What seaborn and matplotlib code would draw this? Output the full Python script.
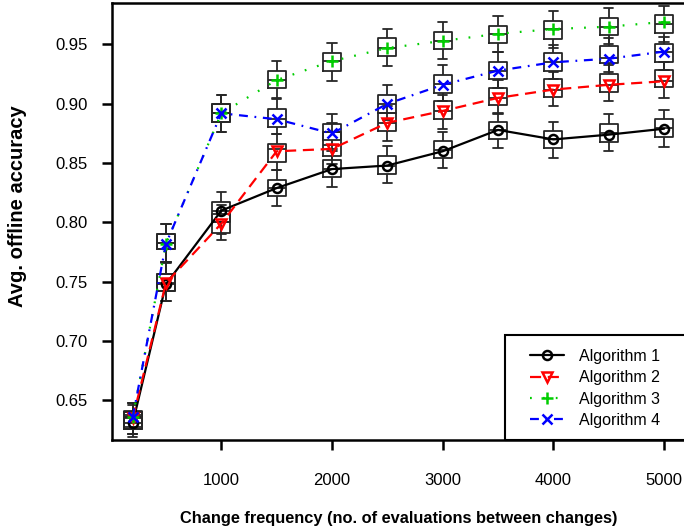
import numpy as np
import pandas as pd
import matplotlib
matplotlib.use("Agg")
import matplotlib.pyplot as plt
from matplotlib.patches import Rectangle
import seaborn as sns

# change frequency (evaluations between changes)
freq = [200, 500, 1000, 1500, 2000, 2500, 3000, 3500, 4000, 4500, 5000]
algos = ["Algorithm 1", "Algorithm 2", "Algorithm 3", "Algorithm 4"]

# average offline accuracy (line / marker values)
alg1_mean = [0.631, 0.748, 0.810, 0.829, 0.845, 0.848, 0.860, 0.878, 0.870, 0.874, 0.879]
alg2_mean = [0.635, 0.749, 0.799, 0.860, 0.862, 0.884, 0.894, 0.905, 0.912, 0.916, 0.919]
alg3_mean = [0.636, 0.782, 0.892, 0.920, 0.936, 0.947, 0.953, 0.959, 0.963, 0.965, 0.969]
alg4_mean = [0.636, 0.782, 0.892, 0.887, 0.875, 0.900, 0.916, 0.928, 0.935, 0.938, 0.944]

# box statistics: lower whisker, q1, median, q3, upper whisker
alg1_lo  = [0.619, 0.734, 0.790, 0.814, 0.830, 0.833, 0.846, 0.863, 0.854, 0.860, 0.864]
alg1_q1  = [0.626, 0.742, 0.800, 0.822, 0.838, 0.841, 0.854, 0.870, 0.863, 0.868, 0.872]
alg1_med = [0.631, 0.748, 0.810, 0.829, 0.845, 0.848, 0.861, 0.878, 0.870, 0.875, 0.880]
alg1_q3  = [0.638, 0.757, 0.8175, 0.836, 0.853, 0.856, 0.869, 0.885, 0.877, 0.883, 0.887]
alg1_hi  = [0.646, 0.766, 0.8255, 0.844, 0.860, 0.8645, 0.8765, 0.892, 0.885, 0.891, 0.895]

alg2_lo  = [0.622, 0.734, 0.785, 0.844, 0.849, 0.869, 0.8785, 0.891, 0.898, 0.902, 0.905]
alg2_q1  = [0.628, 0.742, 0.791, 0.851, 0.856, 0.877, 0.887, 0.899, 0.906, 0.910, 0.914]
alg2_med = [0.635, 0.749, 0.800, 0.862, 0.865, 0.884, 0.894, 0.905, 0.912, 0.916, 0.919]
alg2_q3  = [0.641, 0.757, 0.8075, 0.866, 0.876, 0.892, 0.902, 0.913, 0.921, 0.925, 0.9285]
alg2_hi  = [0.648, 0.767, 0.815, 0.8746, 0.884, 0.898, 0.9074, 0.920, 0.927, 0.933, 0.935]

alg3_lo  = [0.622, 0.767, 0.876, 0.904, 0.9195, 0.932, 0.9375, 0.9434, 0.947, 0.950, 0.952]
alg3_q1  = [0.626, 0.7774, 0.8844, 0.913, 0.928, 0.940, 0.946, 0.951, 0.955, 0.958, 0.9594]
alg3_med = [0.636, 0.7825, 0.892, 0.920, 0.936, 0.947, 0.953, 0.9586, 0.963, 0.965, 0.967]
alg3_q3  = [0.6406, 0.790, 0.8996, 0.9277, 0.9426, 0.9552, 0.9608, 0.9656, 0.970, 0.9726, 0.975]
alg3_hi  = [0.6477, 0.7985, 0.9075, 0.9361, 0.951, 0.963, 0.969, 0.9743, 0.9785, 0.981, 0.9827]

alg4_lo  = [0.622, 0.767, 0.876, 0.8746, 0.862, 0.886, 0.902, 0.913, 0.921, 0.927, 0.9285]
alg4_q1  = [0.626, 0.7774, 0.8844, 0.8807, 0.8695, 0.892, 0.9094, 0.9207, 0.9277, 0.9342, 0.935]
alg4_med = [0.636, 0.7825, 0.892, 0.887, 0.876, 0.8996, 0.9165, 0.9277, 0.935, 0.9384, 0.944]
alg4_q3  = [0.6406, 0.790, 0.8996, 0.8954, 0.883, 0.9074, 0.9243, 0.9355, 0.9426, 0.949, 0.950]
alg4_hi  = [0.6477, 0.7985, 0.9075, 0.9047, 0.8914, 0.9159, 0.9327, 0.9437, 0.9496, 0.9555, 0.9563]

means = [alg1_mean, alg2_mean, alg3_mean, alg4_mean]
boxes = [
    (alg1_lo, alg1_q1, alg1_med, alg1_q3, alg1_hi),
    (alg2_lo, alg2_q1, alg2_med, alg2_q3, alg2_hi),
    (alg3_lo, alg3_q1, alg3_med, alg3_q3, alg3_hi),
    (alg4_lo, alg4_q1, alg4_med, alg4_q3, alg4_hi),
]

colors = ["black", "#FF0000", "#00CD00", "#0000FF"]
styles = ["-", (0, (5, 3)), (0, (0.8, 5)), (0, (4, 3, 0.8, 3))]
markers = ["o", "v", "+", "x"]
msizes = [6.5, 7.5, 9, 7]

# five-number summaries as rows so the box edges land on them exactly
rows = []
for name, stats in zip(algos, boxes):
    for i, f in enumerate(freq):
        for s in stats:
            rows.append({"algo": name, "freq": f, "acc": s[i]})
box_df = pd.DataFrame(rows)

sns.set_style("ticks")
plt.rcParams["font.family"] = ["Liberation Sans", "DejaVu Sans"]

fig = plt.figure(figsize=(6.84, 5.31), dpi=100)
ax = fig.add_axes([111.5 / 684, (531 - 440) / 531, (685.3 - 111.5) / 684, (440 - 3.3) / 531])

for name in algos:
    sns.boxplot(data=box_df[box_df["algo"] == name], x="freq", y="acc",
                native_scale=True, whis=(0, 100), fill=False, color="#262626",
                linewidth=1.3, width=0.55, ax=ax, zorder=2)

for name, m, c, ls, mk, ms in zip(algos, means, colors, styles, markers, msizes):
    sns.lineplot(x=freq, y=m, color=c, linestyle=ls, linewidth=1.6, marker=mk,
                 markersize=ms, markerfacecolor="none", markeredgecolor=c,
                 mew=1.8, label=name, ax=ax, zorder=3)

ax.set_xlim(8, 5192)
ax.set_ylim(0.6167, 0.9847)
ax.set_xticks([1000, 2000, 3000, 4000, 5000])
ax.set_xticklabels(["1000", "2000", "3000", "4000", "5000"])
ax.set_yticks([0.65, 0.70, 0.75, 0.80, 0.85, 0.90, 0.95])
ax.set_yticklabels(["0.65", "0.70", "0.75", "0.80", "0.85", "0.90", "0.95"])
ax.tick_params(axis="both", length=7, width=1.8, labelsize=12, color="black",
               labelcolor="black")
ax.tick_params(axis="x", pad=17)
ax.tick_params(axis="y", pad=10)
for sp in ax.spines.values():
    sp.set_linewidth(1.8)
    sp.set_color("black")

ax.set_xlabel("Change frequency (no. of evaluations between changes)",
              fontsize=11.8, fontweight="bold", labelpad=16, color="black")
ax.set_ylabel("Avg. offline accuracy", fontsize=14.5, fontweight="bold",
              color="black")
ax.yaxis.set_label_coords(-0.148, 0.536)

# legend box sits in the lower right corner, entries indented like the original
leg = ax.legend(loc="center left", bbox_to_anchor=(0.7154, 0.118),
                frameon=False, fontsize=11.5, borderpad=0,
                handlelength=2.1, handletextpad=0.95, labelspacing=0.4)
for t in leg.get_texts():
    t.set_color("black")
ax.add_patch(Rectangle((0.6858, 0.0), 0.4, 0.2404, transform=ax.transAxes,
                       fill=False, edgecolor="black", linewidth=1.5,
                       clip_on=False, zorder=5))

fig.savefig("out.png", dpi=100)
